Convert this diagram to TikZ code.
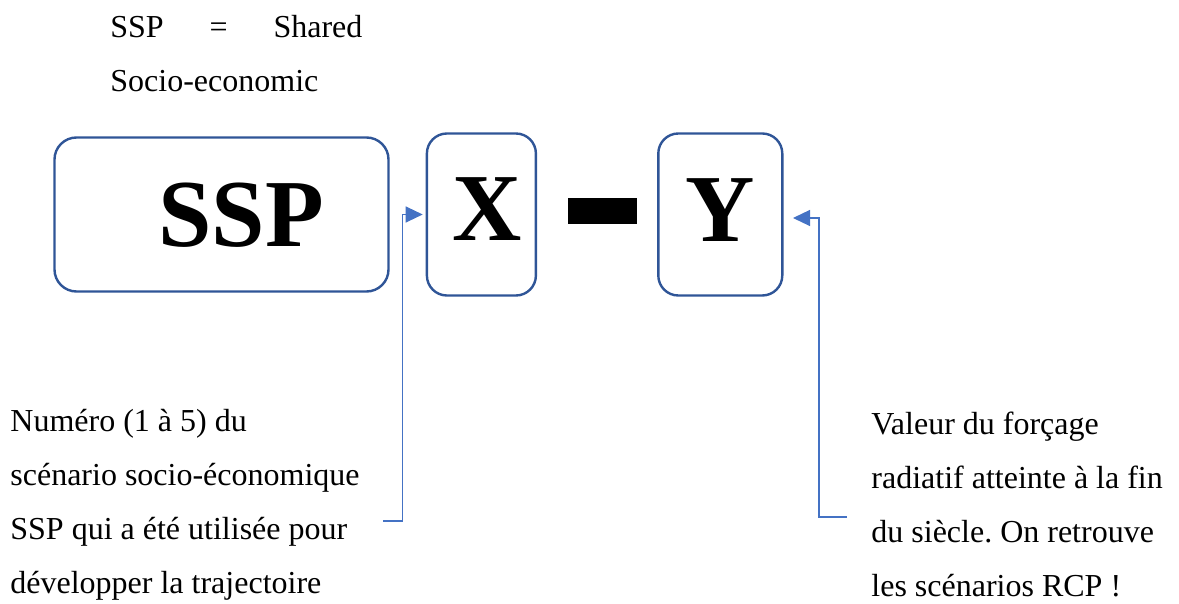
\documentclass[tikz,border=0pt]{standalone}
\usepackage{fontspec}
\setmainfont{Liberation Serif}
\usetikzlibrary{positioning}
\usetikzlibrary{arrows.meta}
\definecolor{boxblue}{RGB}{47,85,151}
\definecolor{arrowblue}{RGB}{68,114,196}
\frenchspacing

\begin{document}
\begin{tikzpicture} [x=0.5pt, y=-0.5pt,
        box/.style = {draw=boxblue, line width=1.2pt, rounded corners=10pt, minimum height=81pt, inner sep=0pt},
        big/.style = {font=\fontsize{48pt}{48pt}\selectfont\bfseries, inner sep=0pt, anchor=base},
        txt/.style = {font=\fontsize{16pt}{27pt}\selectfont, align=left, inner sep=0pt, anchor=base west},
        pointer/.style = {draw=arrowblue, line width=0.6pt, -{Triangle[length=8.5pt, width=8pt]}}]
        \useasboundingbox (0,0) rectangle (1179,604);

        %Knoten
        \node[box, minimum width=167pt, minimum height=77pt, rounded corners=11pt] (ssp) at (221.5,214.5) {};
        \node[box, minimum width=54.5pt] (xbox) [right = 18pt of ssp] {};
        \node[box, minimum width=62pt] (ybox) [right = 60pt of xbox] {};
        \node[fill=black, minimum width=34.5pt, minimum height=13pt, inner sep=0pt] (dash) [right = 15pt of xbox, yshift=1.75pt] {};

        \node[big] (ssptxt) at (241,247) {SSP};
        \node[big] (xtxt) at (487,241) {X};
        \node[big] (ytxt) at (720,242) {Y};

        %base = letzte Zeile
        \node[txt] (title) at (110,92) {\makebox[126pt][s]{SSP = Shared}\\Socio-economic};
        \node[txt] (num) at (10,593) {Numéro (1 à 5) du\\scénario socio-économique\\SSP qui a été utilisée pour\\développer la trajectoire};
        \node[txt] (val) at (871,596) {Valeur du forçage\\radiatif atteinte à la fin\\du siècle. On retrouve\\les scénarios RCP !};

        \coordinate (numend) at (383,521);
        \coordinate (valend) at (847,517);

        %Kanten
        \draw[pointer] (numend) -| ([xshift=-11.5pt]xbox.west) -- ([xshift=-1.5pt]xbox.west);
        \draw[pointer] (valend) -| ([xshift=17.75pt, yshift=-1.75pt]ybox.east) -- ([xshift=4.75pt, yshift=-1.75pt]ybox.east);

    \end{tikzpicture}
\end{document}
